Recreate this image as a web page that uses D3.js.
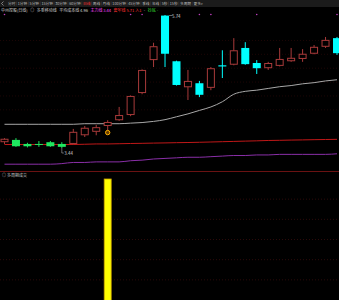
<!DOCTYPE html>
<html><head><meta charset="utf-8">
<script src="https://cdn.jsdelivr.net/npm/d3@7"></script>
<style>html,body{margin:0;padding:0;background:#000;overflow:hidden}svg{display:block}</style>
</head><body>
<svg id="c" width="339" height="300"></svg>
<script>
// ---- data ----
const toolbarItems = ["分时","1分钟","5分钟","15分钟","30分钟","60分钟","日线","周线","月线","100分钟","45分钟","季线","年线","5秒","15秒","多周期","更多>"];
const activePeriod = "日线";
const headerItems = ["中州控股(日线)","◎","多重移动线","平均成本线 4.96","主力线 3.44","套牢线 5.71 入1","-","抄底 -"];
const subPanelTitle = "◎ 多周期成交";
const openP  = [3.54,3.58,3.51,3.51,3.54,3.51,3.51,3.66,3.72,3.82,3.92,4.01,4.39,4.96,5.73,4.94,4.49,4.56,4.48,4.87,4.88,5.17,4.91,4.82,4.86,4.94,4.98,5.07,5.19,5.34];
const highP  = [3.61,3.61,3.53,3.56,3.56,3.54,3.77,3.82,3.84,3.92,4.15,4.35,4.80,5.26,5.74,4.95,4.79,4.60,4.84,5.13,5.34,5.27,4.96,4.93,5.17,5.17,5.15,5.22,5.36,5.36];
const lowP   = [3.51,3.46,3.45,3.46,3.46,3.44,3.50,3.63,3.66,3.75,3.91,3.99,4.37,4.84,4.84,4.52,4.27,4.32,4.44,4.65,4.87,4.88,4.72,4.79,4.85,4.93,4.93,5.06,5.17,5.05];
const closeP = [3.60,3.47,3.47,3.50,3.47,3.46,3.72,3.79,3.80,3.89,4.01,4.34,4.79,5.20,5.07,4.53,4.60,4.36,4.82,4.85,5.13,4.89,4.82,4.91,4.98,5.00,5.07,5.19,5.31,5.08];
const grayLine   = [3.85,3.85,3.85,3.85,3.85,3.85,3.85,3.86,3.86,3.86,3.86,3.87,3.88,3.90,3.93,3.98,4.03,4.09,4.15,4.24,4.37,4.42,4.44,4.47,4.50,4.52,4.55,4.57,4.60,4.62];
const costLine   = [3.50,3.50,3.50,3.50,3.50,3.50,3.50,3.505,3.51,3.51,3.514,3.518,3.521,3.525,3.528,3.532,3.535,3.539,3.544,3.549,3.554,3.559,3.564,3.570,3.573,3.577,3.580,3.584,3.587,3.590];
const purpleLine = [3.16,3.16,3.16,3.16,3.16,3.17,3.19,3.19,3.20,3.20,3.20,3.22,3.23,3.25,3.26,3.27,3.28,3.28,3.29,3.30,3.31,3.31,3.32,3.32,3.33,3.33,3.33,3.33,3.33,3.34];
const topDots = [0,11,12,17,18,22,29];
const buySignal = [9];
const subValues = [0,0,0,0,0,0,0,0,0,6,0,0,0,0,0,0,0,0,0,0,0,0,0,0,0,0,0,0,0,0];
const subGrid = [1,2,3,4,5];
const mainGrid = [4.10,4.34,4.58,4.82,5.06,5.30];
const priceDomain = [3.44, 5.74];

// ---- drawing ----
const svg = d3.select("#c");
const W = 339, H = 300;
const font = "'Noto Sans CJK SC','Noto Sans',sans-serif";
svg.append("rect").attr("width",W).attr("height",H).attr("fill","#000");

const n = openP.length;
const x = d3.scaleLinear().domain([0, n-1]).range([4.5, 337]);
const y = d3.scaleLinear().domain(priceDomain).range([148, 15]);
const ySub = d3.scaleLinear().domain([0, 6]).range([300, 179]);
const bw = 8;

// toolbar
svg.append("rect").attr("x",0).attr("y",0).attr("width",W).attr("height",7).attr("fill","#1b1b1b");
svg.append("path").attr("d","M3.5,1.5 L1.5,3.5 L3.5,5.5").attr("stroke","#aaa").attr("fill","none").attr("stroke-width",0.7);
let tx = 8;
toolbarItems.forEach((t,i)=>{
  const el = svg.append("text").attr("x",tx).attr("y",5.1).attr("font-size",3.7).attr("font-family",font)
    .attr("fill", t===activePeriod ? "#ff3030" : "#bdbdbd").text(t);
  const w = el.node().getComputedTextLength();
  tx += w + 1.2;
  if (i < toolbarItems.length-1) {
    svg.append("line").attr("x1",tx).attr("x2",tx).attr("y1",1.5).attr("y2",5.5).attr("stroke","#444").attr("stroke-width",0.5);
  }
  tx += 1.2;
});

// header line 2
const headerColors = ["#d0d0d0","#d0d0d0","#d0d0d0","#d0d0d0","#ff44ff","#ff3030","#d0d0d0","#33dd33"];
let hx = 1;
headerItems.forEach((t,i)=>{
  const el = svg.append("text").attr("x",hx).attr("y",12.4).attr("font-size",4.0).attr("font-family",font)
    .attr("fill",headerColors[i]).text(t);
  hx += el.node().getComputedTextLength() + 2.5;
});

// main grid
svg.append("g").selectAll("line").data(mainGrid).join("line")
  .attr("x1",0).attr("x2",W).attr("y1",d=>y(d)).attr("y2",d=>y(d))
  .attr("stroke","#3a0d0d").attr("stroke-width",0.5).attr("stroke-dasharray","1,2");

// lines
const lineGen = arr => d3.line().x((d,i)=>x(i)).y(d=>y(d)).curve(d3.curveMonotoneX)(arr);
svg.append("path").attr("d",lineGen(purpleLine)).attr("stroke","#8a2fa8").attr("fill","none").attr("stroke-width",1);
svg.append("path").attr("d",lineGen(costLine)).attr("stroke","#c01818").attr("fill","none").attr("stroke-width",1);
svg.append("path").attr("d",lineGen(grayLine)).attr("stroke","#a8a8a8").attr("fill","none").attr("stroke-width",1);

// candles
const idx = d3.range(n);
const isUp = i => closeP[i] >= openP[i];
const downColor = i => closeP[i] < costLine[i] + 0.08 ? "#1fe860" : "#00ffff";
const upColor = "#a83a3a";
const g = svg.append("g");
idx.forEach(i=>{
  const c = isUp(i) ? upColor : downColor(i);
  g.append("line").attr("x1",x(i)).attr("x2",x(i)).attr("y1",y(highP[i])).attr("y2",y(lowP[i]))
    .attr("stroke",c).attr("stroke-width",1);
  const top = y(Math.max(openP[i],closeP[i])), bot = y(Math.min(openP[i],closeP[i]));
  const h = Math.max(bot-top, 1);
  if (isUp(i)) {
    g.append("rect").attr("x",x(i)-bw/2+0.5).attr("y",top+0.5).attr("width",bw-1).attr("height",Math.max(h-1,0.5))
      .attr("fill","#000").attr("stroke",c).attr("stroke-width",1);
  } else {
    g.append("rect").attr("x",x(i)-bw/2).attr("y",top).attr("width",bw).attr("height",h).attr("fill",c);
  }
});

// max / min labels
const iMax = d3.maxIndex(highP), iMin = d3.minIndex(lowP);
svg.append("line").attr("x1",x(iMax)+bw/2).attr("x2",x(iMax)+bw/2+3).attr("y1",y(highP[iMax])+0.5).attr("y2",y(highP[iMax])+0.5).attr("stroke","#ccc").attr("stroke-width",0.5);
svg.append("text").attr("x",x(iMax)+bw/2+3).attr("y",y(highP[iMax])+3).attr("font-size",4.4).attr("font-family",font).attr("fill","#d8d8d8").text(highP[iMax].toFixed(2));
svg.append("line").attr("x1",x(iMin)).attr("x2",x(iMin)).attr("y1",y(lowP[iMin])).attr("y2",y(lowP[iMin])+5).attr("stroke","#ccc").attr("stroke-width",0.5);
svg.append("line").attr("x1",x(iMin)).attr("x2",x(iMin)+2).attr("y1",y(lowP[iMin])+5).attr("y2",y(lowP[iMin])+5).attr("stroke","#ccc").attr("stroke-width",0.5);
svg.append("text").attr("x",x(iMin)+2.5).attr("y",y(lowP[iMin])+6.5).attr("font-size",4.4).attr("font-family",font).attr("fill","#d8d8d8").text(lowP[iMin].toFixed(2));

// signals
svg.append("g").selectAll("circle").data(buySignal).join("circle")
  .attr("cx",d=>x(d)).attr("cy",d=>y(lowP[d])+2.5).attr("r",2.2)
  .attr("fill","#6a4000").attr("stroke","#ffb000").attr("stroke-width",1);
svg.append("g").selectAll("circle").data(topDots).join("circle")
  .attr("cx",d=>x(d)).attr("cy",14.5).attr("r",0.8).attr("fill","#c040c0");

// sub panel
svg.append("line").attr("x1",0).attr("x2",W).attr("y1",171.5).attr("y2",171.5).attr("stroke","#6a1212").attr("stroke-width",1);
svg.append("text").attr("x",2).attr("y",177.3).attr("font-size",4.0).attr("font-family",font).attr("fill","#c8c8c8").text(subPanelTitle);
svg.append("g").selectAll("line").data(subGrid).join("line")
  .attr("x1",0).attr("x2",W).attr("y1",d=>ySub(d)).attr("y2",d=>ySub(d))
  .attr("stroke","#4a1010").attr("stroke-width",0.6).attr("stroke-dasharray","1,2");
svg.append("g").selectAll("rect").data(idx.filter(i=>subValues[i]>0)).join("rect")
  .attr("x",i=>x(i)-3.5).attr("y",i=>ySub(subValues[i])).attr("width",7).attr("height",i=>ySub(0)-ySub(subValues[i])+2)
  .attr("fill","#ffff00").attr("stroke","#c8a000").attr("stroke-width",0.8);
</script>
</body></html>
